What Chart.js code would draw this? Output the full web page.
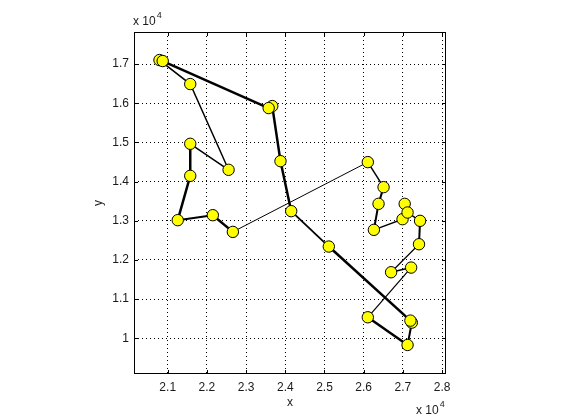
<!DOCTYPE html>
<html>
<head>
  <title>Tour plot</title>
  <script src="https://cdn.jsdelivr.net/npm/chart.js@4.4.1/dist/chart.umd.min.js"></script>
  <style>
    body { margin: 0; background: #fff; }
    canvas { display: block; }
  </style>
</head>
<body>
  <canvas id="tour" width="561" height="420"></canvas>
  <script>
    // city coordinates, in visiting order
    var xs = [20790, 21575, 22553, 21575, 21575, 21256, 22151, 22662, 26105, 26507,
              26379, 26260, 26991, 27046, 27119, 27438, 27411, 26699, 27210, 26105,
              27119, 27228, 27192, 25110, 24151, 23877, 23667, 23575, 20872];
    var ys = [17102, 16489, 14300, 14964, 14146, 13014, 13141, 12715, 14496, 13857,
              13431, 12767, 13039, 13431, 13210, 12997, 12400, 11685, 11804, 10535,
              9828, 10399, 10450, 12341, 13244, 14521, 15927, 15876, 17077];

    var xTicks = [21000, 22000, 23000, 24000, 25000, 26000, 27000, 28000];
    var yTicks = [10000, 11000, 12000, 13000, 14000, 15000, 16000, 17000];

    // stroke width of each leg (style only)
    var legWidth = [1.5, 1.5, 1.5, 2.5, 2.5, 2, 2.5, 1, 1.5, 2,
                    2, 1.5, 1.5, 1.5, 1.5, 2, 1.2, 1.5, 1.2, 2.5,
                    2, 1, 2.5, 1.8, 2.5, 2.5, 1, 2.5];

    var pts = [];
    for (var i = 0; i < xs.length; i++) pts.push({ x: xs[i], y: ys[i] });

    var FONT = 'Liberation Sans, Arial, sans-serif';
    var TXT = '#1a1a1a';

    // axes box, inward ticks and the "x 10^4" multipliers
    var boxPlugin = {
      id: 'box',
      afterDraw: function(chart) {
        var c = chart.ctx, a = chart.chartArea;
        var sx = chart.scales.x, sy = chart.scales.y;
        c.save();
        c.strokeStyle = '#000';
        c.lineWidth = 1;
        c.strokeRect(a.left + 0.5, a.top + 0.5, a.right - a.left - 1, a.bottom - a.top - 1);
        c.beginPath();
        xTicks.forEach(function(v) {
          var px = Math.round(sx.getPixelForValue(v)) + 0.5;
          c.moveTo(px, a.bottom); c.lineTo(px, a.bottom - 4);
          c.moveTo(px, a.top); c.lineTo(px, a.top + 4);
        });
        yTicks.forEach(function(v) {
          var py = Math.round(sy.getPixelForValue(v)) + 0.5;
          c.moveTo(a.left, py); c.lineTo(a.left + 4, py);
          c.moveTo(a.right, py); c.lineTo(a.right - 4, py);
        });
        c.stroke();

        c.fillStyle = TXT;
        c.textBaseline = 'alphabetic';
        c.textAlign = 'left';
        function mult(x, y) {
          c.font = '12px ' + FONT;
          c.fillText('x 10', x, y);
          var w = c.measureText('x 10').width;
          c.font = '9px ' + FONT;
          c.fillText('4', x + w + 1, y - 7);
        }
        mult(133, 25);
        mult(416, 414);
        c.restore();
      }
    };

    new Chart(document.getElementById('tour'), {
      type: 'line',
      data: {
        datasets: [{
          data: pts,
          borderColor: '#000',
          borderWidth: 1.5,
          tension: 0,
          fill: false,
          pointRadius: 5.7,
          pointBorderWidth: 1,
          pointBackgroundColor: '#ffff00',
          pointBorderColor: '#000',
          segment: {
            borderWidth: function(ctx) { return legWidth[ctx.p0DataIndex]; }
          }
        }]
      },
      options: {
        responsive: false,
        animation: false,
        layout: { padding: { left: 87, right: 115, top: 32, bottom: 6 } },
        plugins: { legend: { display: false }, tooltip: { enabled: false } },
        scales: {
          x: {
            type: 'linear',
            min: 20140,
            max: 28100,
            afterFit: function(s) { s.height = 40; },
            afterBuildTicks: function(s) { s.ticks = xTicks.map(function(v) { return { value: v }; }); },
            grid: { color: '#000', lineWidth: 1, drawTicks: false },
            border: { display: false, dash: [1, 3] },
            ticks: {
              padding: 6,
              color: TXT,
              font: { family: FONT, size: 12 },
              maxRotation: 0,
              callback: function(v) { return String(+(v / 10000).toFixed(1)); }
            },
            title: { display: true, text: 'x', color: TXT, font: { family: FONT, size: 12 } }
          },
          y: {
            type: 'linear',
            min: 9087,
            max: 17818,
            afterFit: function(s) { s.width = 47; },
            afterBuildTicks: function(s) { s.ticks = yTicks.map(function(v) { return { value: v }; }); },
            grid: { color: '#000', lineWidth: 1, drawTicks: false },
            border: { display: false, dash: [1, 3] },
            ticks: {
              padding: 5,
              color: TXT,
              font: { family: FONT, size: 12 },
              callback: function(v) { return String(+(v / 10000).toFixed(1)); }
            },
            title: { display: true, text: 'y', color: TXT, font: { family: FONT, size: 12 } }
          }
        }
      },
      plugins: [boxPlugin]
    });
  </script>
</body>
</html>
